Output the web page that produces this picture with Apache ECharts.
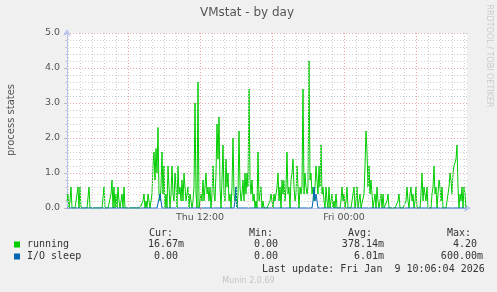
<!DOCTYPE html>
<html><head><meta charset="utf-8">
<script src="https://cdn.jsdelivr.net/npm/echarts@6/dist/echarts.min.js"></script>
<style>html,body{margin:0;padding:0;background:#f0f0f0}#c{width:497px;height:292px}</style>
</head><body><div id="c"></div><script>
// time in minutes since Thu 00:00; one sample every 5 minutes
const startMin = 55;
const stepMin = 5;
const axisMin = 55, axisMax = 2055;
const tickValues = [720, 1440];
const tickLabels = ['Thu 12:00', 'Fri 00:00'];
const yTicks = [0, 1, 2, 3, 4, 5];

const running = [
0.2,0.4,0,0.2,0.6,0,0,0,0,0,
0.4,0.6,0,0.6,0,0,0,0,0,0,
0,0,0.6,0,0,0,0,0,0,0,
0,0,0,0,0,0,0,0.6,0,0,
0,0,0,0,0.4,0.8,0,0.6,0,0.4,
0,0.6,0.2,0,0.2,0.4,0,0.6,0,0,
0,0,0,0,0,0,0,0,0,0,
0,0,0,0,0,0,0.2,0.4,0,0.2,
0,0.4,0.2,0,0,0.4,1.2,1.6,0.8,1.7,
1.0,2.3,0.4,0.2,0.6,1.6,0.4,1.2,0,0.4,
0,1.2,0.6,0,0.4,1.2,0.4,0.2,1.0,0.6,
0,1.2,0.4,0.6,0.2,0.8,0.2,1.0,0.6,0.2,
0.4,0.6,0,0.4,0.2,0,0.2,0.6,3.0,0.4,
0,3.6,0,0,0.4,0.2,0.8,0.2,0.6,1.0,
0.4,0.6,0.2,0.6,0,0.4,1.2,0.4,0.2,1.0,
2.4,1.4,2.6,0.6,0,0.8,1.8,0.4,0.2,1.4,
0.6,1.0,0.2,0.4,0,0.6,2.0,0.4,0.2,0.6,
0,0.4,2.2,0.6,0.2,0.4,0.8,0.2,1.0,0.4,
1.0,0.6,3.4,0.8,0.4,0.8,0.2,0.4,0,0.2,
0,1.6,0.2,0.4,0.6,0,0.2,0,0,0,
0,0,0,0.2,0.4,0.2,0,0.4,0.2,0.4,
0.6,1.0,0.2,0.6,0,0.8,0.4,0.8,0.2,0.6,
1.6,0.4,0.6,0,0.8,1.0,1.4,0.6,0.2,0.4,
1.2,0.6,0,0.6,0.4,0.6,3.4,0.4,1.0,0.6,
0.4,0.6,4.2,0.8,1.0,0.4,0.6,0.2,0.6,1.2,
0.8,0.4,1.2,0.6,1.8,0.4,0.6,0.2,0,0.6,
0.2,0,0.6,0,0,0.4,0,0.2,0,0.4,
0,0,0,0,0.2,0.6,0.2,0.4,0,0.2,
0.6,0,0,0,0,0.2,0.4,0.6,0,0.2,
0.6,0,0.2,0.4,0,0,0,0.4,1.2,2.2,
1.6,0.6,1.2,0.4,0.8,0.4,0,0,0.4,0,
0.6,0.2,0,0,0.4,0,0.4,0,0,0,
0.2,0.4,0,0,0,0,0,0,0,0,
0,0.2,0.4,0,0,0,0,0,0,0.2,
0.6,0.2,0,0.4,0.6,0.2,0.4,0,0.2,0.6,
0,0,0,0,0.4,1.0,0.2,0.6,0.6,0.2,
0.6,0,0,0,0,0.4,0.6,1.2,0.4,0.6,
0,0.4,0.8,0.6,0.2,0.6,0,0,0,0,
0.2,0.4,0.6,1.0,0.8,0.4,1.0,1.2,1.2,1.4,
1.8,0.6,0,0.4,0.2,0.6,0,0.6,0.4,0.02
];

const ioSleep = [
0,0,0,0,0,0,0,0,0,0, 0,0,0,0,0,0,0,0,0,0,
0,0,0,0,0,0,0,0,0,0, 0,0,0,0,0,0,0,0,0,0,
0,0,0,0,0,0,0,0,0,0, 0,0,0,0,0,0,0,0,0,0,
0,0,0,0,0,0,0,0,0,0, 0,0,0,0,0,0,0,0,0,0,
0,0,0,0,0,0,0,0,0,0, 0,0,0,0.4,0.2,0,0,0,0,0,
0,0,0,0,0,0,0,0,0,0, 0,0,0,0,0,0,0,0,0,0,
0,0,0,0,0,0,0,0,0,0, 0,0,0,0,0,0,0,0,0,0,
0,0,0,0,0,0,0,0,0,0, 0,0,0,0,0,0,0,0,0,0,
0,0,0,0,0,0,0,0,0.2,0.6, 0,0,0,0,0,0,0,0,0,0,
0,0,0,0,0,0,0,0,0,0, 0,0,0,0,0,0,0,0,0,0,
0,0,0,0,0,0,0,0,0,0, 0,0,0,0,0,0,0,0,0,0,
0,0,0,0,0,0,0,0,0,0, 0,0,0,0,0,0,0,0,0,0,
0,0,0,0,0,0,0.2,0.6,0.2,0.4, 0.2,0,0,0,0,0,0,0,0,0,
0,0,0,0,0,0,0,0,0,0, 0,0,0,0,0,0,0,0,0,0,
0,0,0,0,0,0,0,0,0,0, 0,0,0,0,0,0,0,0,0,0,
0,0,0,0,0,0,0,0,0,0, 0,0,0,0,0,0,0,0,0,0,
0,0,0,0,0,0,0,0,0,0, 0,0,0,0,0,0,0,0,0,0,
0,0,0,0,0,0,0,0,0,0, 0,0,0,0,0,0,0,0,0,0,
0,0,0,0,0,0,0,0,0,0, 0,0,0,0,0,0,0,0,0,0,
0,0,0,0,0,0,0,0,0,0, 0,0,0,0,0,0,0,0,0,0
];

const seriesNames = ['running', 'I/O sleep'];
const seriesColors = ['#00cc00', '#0066b3'];
const statHeaders = ['Cur:', 'Min:', 'Avg:', 'Max:'];
const statsRunning = ['16.67m', '0.00 ', '378.14m', '4.20 '];
const statsIoSleep = ['0.00 ', '0.00 ', '6.01m', '600.00m'];
const titleText = 'VMstat - by day';
const yName = 'process states';
const lastUpdate = 'Last update: Fri Jan  9 10:06:04 2026';
const footer = 'Munin 2.0.69';
const sideText = 'RRDTOOL / TOBI OETIKER';

const toXY = arr => arr.map((v, i) => [startMin + i * stepMin, v]);

// vertical grid lines every hour, red every 6 hours
const vGrid = [];
for (let m = 60; m < axisMax; m += 60) {
  const major = m % 360 === 0;
  vGrid.push({ xAxis: m, lineStyle: { color: major ? '#eba4a4' : '#cfcfcf', type: [1, 2], width: 1 } });
}

const mono = '10px "DejaVu Sans Mono"';
const sans = '"DejaVu Sans"';
const txtCol = '#333';
const graphics = [
  { type: 'text', x: 247, y: 13, style: { text: titleText, font: '12px ' + sans, fill: '#555', textAlign: 'center', textVerticalAlign: 'middle' } },
  { type: 'text', x: 11, y: 120, rotation: Math.PI / 2, style: { text: yName, font: '10px ' + sans, fill: '#555', textAlign: 'center', textVerticalAlign: 'middle' } },
  { type: 'text', x: 489, y: 56, rotation: -Math.PI / 2, style: { text: sideText, font: '8px ' + sans, fill: '#cccccc', textAlign: 'center', textVerticalAlign: 'middle' } },
  { type: 'text', x: 248.5, y: 281, style: { text: footer, font: '8px ' + sans, fill: '#c4c4c4', textAlign: 'center', textVerticalAlign: 'middle' } },
  { type: 'text', x: 262, y: 269, style: { text: lastUpdate, font: mono, fill: txtCol, textAlign: 'left', textVerticalAlign: 'middle' } }
];
const headerX = [149, 249, 348, 447];
const colEnd = [184, 284, 384, 483];
statHeaders.forEach((h, k) => graphics.push({ type: 'text', x: headerX[k], y: 233.5, style: { text: h, font: mono, fill: txtCol, textAlign: 'left', textVerticalAlign: 'middle' } }));
[statsRunning, statsIoSleep].forEach((row, r) => {
  const y = r === 0 ? 244.5 : 256.5;
  graphics.push({ type: 'rect', shape: { x: 14, y: y - 3, width: 6, height: 6 }, style: { fill: seriesColors[r] } });
  graphics.push({ type: 'text', x: 27, y: y, style: { text: seriesNames[r], font: mono, fill: txtCol, textAlign: 'left', textVerticalAlign: 'middle' } });
  row.forEach((s, k) => graphics.push({ type: 'text', x: colEnd[k], y: y, style: { text: s, font: mono, fill: txtCol, textAlign: 'right', textVerticalAlign: 'middle' } }));
});

const chart = echarts.init(document.getElementById('c'), null, { renderer: 'canvas' });
chart.setOption({
  backgroundColor: '#f0f0f0',
  animation: false,
  grid: { left: 67, top: 33, width: 400, height: 175, show: true, backgroundColor: '#ffffff', borderWidth: 0 },
  xAxis: {
    type: 'value', min: axisMin, max: axisMax,
    axisLine: { show: true, lineStyle: { color: '#b9c2ee', width: 1 }, symbol: ['none', 'arrow'], symbolSize: [6, 7], symbolOffset: [0, 4] },
    axisTick: { show: true, customValues: tickValues, length: 2, lineStyle: { color: '#eba4a4' } },
    axisLabel: { customValues: tickValues, formatter: v => tickLabels[tickValues.indexOf(v)] || '', color: '#555', fontFamily: 'DejaVu Sans', fontSize: 9.5, margin: 5 },
    splitLine: { show: false }
  },
  yAxis: {
    type: 'value', min: 0, max: 5, interval: 1,
    axisLine: { show: true, lineStyle: { color: '#b9c2ee', width: 1 }, symbol: ['none', 'arrow'], symbolSize: [6, 7], symbolOffset: [0, 4] },
    axisTick: { show: true, length: 3, lineStyle: { color: '#bbbbbb' } },
    minorTick: { show: true, splitNumber: 5, length: 2, lineStyle: { color: '#cccccc' } },
    axisLabel: { formatter: v => yTicks.includes(v) ? v.toFixed(1) : '', color: '#555', fontFamily: 'DejaVu Sans', fontSize: 9.5, margin: 7 },
    splitLine: { show: true, lineStyle: { color: '#eba4a4', type: [1, 2], width: 1 } },
    minorSplitLine: { show: true, lineStyle: { color: '#cfcfcf', type: [1, 2], width: 1 } }
  },
  series: [
    { type: 'line', name: 'grid', data: [], z: 1, silent: true,
      markLine: { silent: true, symbol: 'none', label: { show: false }, animation: false, data: vGrid } },
    { type: 'line', name: seriesNames[0], data: toXY(running), showSymbol: false, z: 3,
      lineStyle: { color: seriesColors[0], width: 1 }, itemStyle: { color: seriesColors[0] } },
    { type: 'line', name: seriesNames[1], data: toXY(ioSleep), showSymbol: false, z: 4,
      lineStyle: { color: seriesColors[1], width: 1 }, itemStyle: { color: seriesColors[1] } }
  ],
  graphic: graphics
});
</script></body></html>
